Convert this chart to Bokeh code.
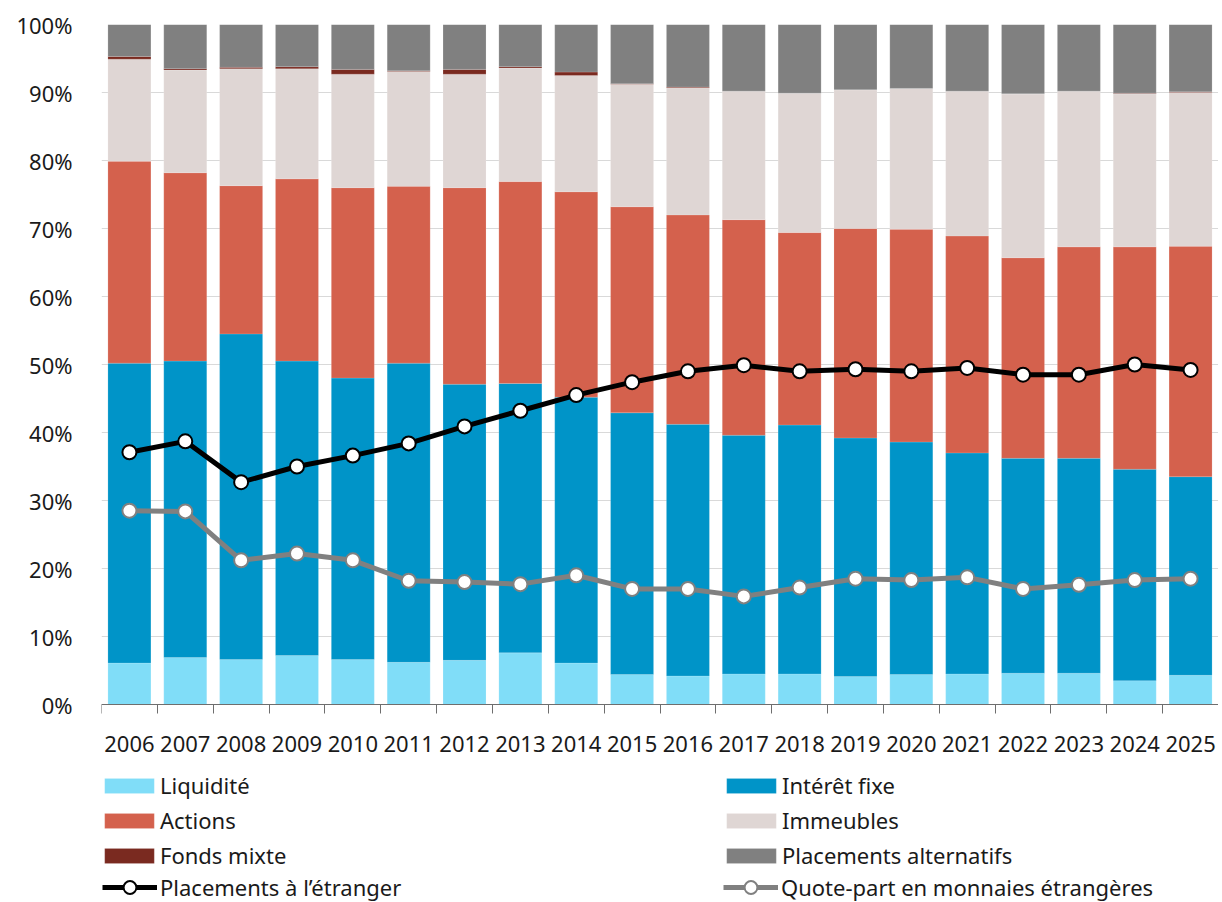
import numpy as np
from bokeh.plotting import figure
from bokeh.models import (ColumnDataSource, Range1d, FixedTicker, PrintfTickFormatter,
                          Legend, LegendItem)
from bokeh.embed import file_html
from bokeh.resources import INLINE

# ---------------- data ----------------
years = ["2006", "2007", "2008", "2009", "2010", "2011", "2012", "2013", "2014", "2015",
         "2016", "2017", "2018", "2019", "2020", "2021", "2022", "2023", "2024", "2025"]
liquidite = [6.1, 6.9, 6.6, 7.2, 6.6, 6.2, 6.5, 7.6, 6.1, 4.4,
             4.2, 4.5, 4.5, 4.1, 4.4, 4.5, 4.6, 4.6, 3.5, 4.3]
interet_fixe = [44.1, 43.6, 47.9, 43.3, 41.4, 44.0, 40.6, 39.6, 39.1, 38.5,
                37.0, 35.1, 36.6, 35.1, 34.2, 32.5, 31.6, 31.6, 31.1, 29.2]
actions = [29.7, 27.7, 21.8, 26.8, 28.0, 26.0, 28.9, 29.7, 30.2, 30.3,
           30.8, 31.7, 28.3, 30.8, 31.3, 31.9, 29.5, 31.1, 32.7, 33.9]
immeubles = [15.0, 15.1, 17.2, 16.2, 16.7, 16.9, 16.7, 16.7, 17.1, 18.0,
             18.7, 18.9, 20.5, 20.4, 20.7, 21.3, 24.1, 22.9, 22.5, 22.6]
fonds_mixte = [0.4, 0.2, 0.2, 0.3, 0.7, 0.1, 0.7, 0.2, 0.5, 0.1,
               0.1, 0.0, 0.0, 0.0, 0.0, 0.0, 0.0, 0.0, 0.1, 0.1]
alternatifs = [4.7, 6.5, 6.3, 6.2, 6.6, 6.8, 6.6, 6.2, 7.0, 8.7,
               9.2, 9.8, 10.1, 9.6, 9.4, 9.8, 10.2, 9.8, 10.1, 9.9]
etranger = [37.1, 38.7, 32.7, 35.0, 36.6, 38.4, 40.9, 43.2, 45.5, 47.4,
            49.0, 49.9, 49.0, 49.3, 49.0, 49.5, 48.5, 48.5, 50.0, 49.2]
devises = [28.5, 28.4, 21.2, 22.2, 21.2, 18.2, 18.0, 17.7, 19.0, 17.0,
           17.0, 15.9, 17.2, 18.5, 18.3, 18.7, 17.0, 17.6, 18.3, 18.5]
y_ticks = list(range(0, 101, 10))

series_names = ["Liquidité", "Intérêt fixe", "Actions", "Immeubles", "Fonds mixte",
                "Placements alternatifs"]
line_names = ["Placements à l’étranger", "Quote-part en monnaies étrangères"]
series_keys = ["liq", "int", "act", "imm", "fm", "alt"]
colors = ["#80ddf8", "#0094c8", "#d4614d", "#dfd6d4", "#7a2a20", "#808080"]
line_colors = ["black", "#808080"]

FONT = "Noto Sans"
W, H = 1218, 902
TOP, ZERO_PX = 24, 704          # pixel rows of 100 % and 0 %
px_per_unit = (ZERO_PX - TOP) / 100.0
y_min = -(H - ZERO_PX) / px_per_unit   # frame reaches below 0 to hold the legend

# ---------------- chart ----------------
n = len(years)
x = np.arange(n) + 0.5
src = ColumnDataSource(dict(x=x, liq=liquidite, int=interet_fixe, act=actions,
                            imm=immeubles, fm=fonds_mixte, alt=alternatifs,
                            etr=etranger, dev=devises))

p = figure(width=W, height=H, output_backend="svg", toolbar_location=None,
           x_range=Range1d(0, n), y_range=Range1d(y_min, 100))
p.min_border_left = 101
p.min_border_right = 0
p.min_border_top = TOP
p.min_border_bottom = 0
p.outline_line_color = None
p.background_fill_color = "white"

bars = p.vbar_stack(series_keys, x="x", width=0.77, color=colors, source=src,
                    line_color="white", line_alpha=0.25, line_width=0.6)

l1 = p.line("x", "etr", source=src, line_color=line_colors[0], line_width=5)
s1 = p.scatter("x", "etr", source=src, size=14, fill_color="white",
               line_color=line_colors[0], line_width=2)
l2 = p.line("x", "dev", source=src, line_color=line_colors[1], line_width=5)
s2 = p.scatter("x", "dev", source=src, size=14, fill_color="white",
               line_color=line_colors[1], line_width=2)

p.xgrid.grid_line_color = None
p.ygrid.grid_line_color = "#d9d9d9"
p.ygrid.grid_line_width = 1
p.ygrid.ticker = FixedTicker(ticks=y_ticks)

p.yaxis.ticker = FixedTicker(ticks=y_ticks)
p.yaxis.formatter = PrintfTickFormatter(format="%d%%")
p.yaxis.axis_line_color = None
p.yaxis.major_tick_line_color = None
p.yaxis.minor_tick_line_color = None
p.yaxis.major_tick_out = 0
p.yaxis.major_label_standoff = 29
p.yaxis.major_label_text_font = FONT
p.yaxis.major_label_text_font_size = "22px"
p.yaxis.major_label_text_color = "#1a1a1a"

p.xaxis.fixed_location = 0
p.xaxis.ticker = FixedTicker(ticks=list(x), minor_ticks=list(range(n + 1)))
p.xaxis.major_label_overrides = {float(xi): y for xi, y in zip(x, years)}
p.xaxis.axis_line_color = "#6e6e6e"
p.xaxis.axis_line_width = 1
p.xaxis.major_tick_line_color = None
p.xaxis.major_tick_out = 0
p.xaxis.minor_tick_line_color = "#6e6e6e"
p.xaxis.minor_tick_out = 9
p.xaxis.minor_tick_in = 0
p.xaxis.major_label_standoff = 22
p.xaxis.major_label_text_font = FONT
p.xaxis.major_label_text_font_size = "22px"
p.xaxis.major_label_text_color = "#1a1a1a"

# ---------------- legends (row-major, two columns) ----------------
common = dict(orientation="horizontal", ncols=2,
              label_text_font=FONT, label_text_font_size="22px",
              label_text_color="#1a1a1a", padding=0, margin=0,
              border_line_color=None, background_fill_alpha=0)

bar_items = [LegendItem(label=series_names[i], renderers=[bars[i]]) for i in range(6)]
legend_bars = Legend(items=bar_items, location=(-3, 32),
                     glyph_width=62, glyph_height=19, label_standoff=0,
                     label_width=555, spacing=5, **common)

line_items = [LegendItem(label=line_names[0], renderers=[l1, s1]),
              LegendItem(label=line_names[1], renderers=[l2, s2])]
legend_lines = Legend(items=line_items, location=(1, -1),
                      glyph_width=55, glyph_height=32, label_standoff=3,
                      label_width=559, spacing=4, **common)

p.add_layout(legend_bars)
p.add_layout(legend_lines)

open("out.html", "w").write(file_html(p, INLINE))
